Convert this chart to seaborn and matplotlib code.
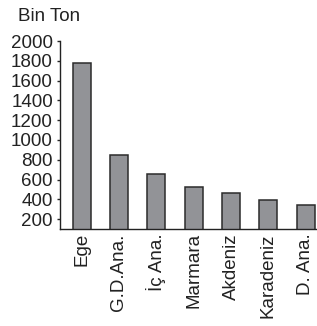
import matplotlib
matplotlib.use("Agg")
import matplotlib.pyplot as plt
import seaborn as sns
import pandas as pd

regions = ["Ege", "G.D.Ana.", "İç Ana.", "Marmara", "Akdeniz", "Karadeniz", "D. Ana."]
values = [1780, 850, 660, 520, 460, 395, 340]
yticks = [200, 400, 600, 800, 1000, 1200, 1400, 1600, 1800, 2000]

sns.set_style("white")
plt.rcParams['font.family'] = ['Liberation Sans', 'DejaVu Sans']

df = pd.DataFrame({"Bolge": regions, "Uretim": values})

fig = plt.figure(figsize=(3.17, 3.26), dpi=100)
ax = fig.add_axes([0.189, 0.2975, 0.811, 0.5767])

sns.barplot(data=df, x="Bolge", y="Uretim", color="#929397", saturation=1,
            edgecolor="#2b2b2b", linewidth=1.1, width=0.48, ax=ax)

ax.set_ylim(100, 2000)
ax.set_xlim(-0.58, 6.3)
ax.set_yticks(yticks)
ax.set_yticklabels([str(v) for v in yticks], fontsize=13.5, color="#222222")
ax.set_xticks(range(len(regions)))
ax.set_xticklabels(regions, rotation=90, fontsize=13.5, color="#222222")
ax.tick_params(axis="y", length=2.5, width=1, direction="out", pad=2.5, left=True)
ax.tick_params(axis="x", length=0, pad=3)
ax.set_xlabel("")
ax.set_ylabel("")

for s in ["top", "right"]:
    ax.spines[s].set_visible(False)
for s in ["left", "bottom"]:
    ax.spines[s].set_color("#222222")
    ax.spines[s].set_linewidth(1.0)

fig.text(0.057, 0.936, "Bin Ton", fontsize=13.5, color="#222222", ha="left", va="baseline")

fig.savefig("out.png", dpi=100)
